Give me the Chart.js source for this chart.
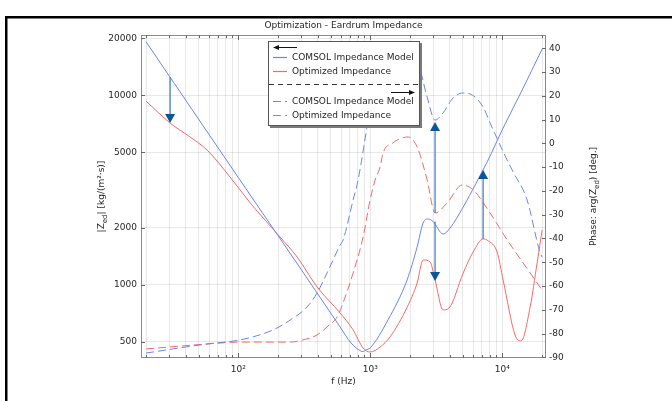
<!DOCTYPE html>
<html>
<head>
<meta charset="utf-8">
<script src="https://cdn.jsdelivr.net/npm/chart.js@4.4.1/dist/chart.umd.min.js"></script>
<style>
    html, body { margin: 0; padding: 0; background: #fff; }
</style>
</head>
<body>
<canvas id="grafico" width="672" height="401"></canvas>
<script>
// frequencias e valores
const comsolMagFreq = [20, 100, 300, 590, 714, 822, 881, 923, 995, 1361, 1897, 2260, 2508, 2737, 2985, 3554, 4015, 5047, 6327, 7798, 10130, 13870, 20000];
const comsolMag = [19200, 3680, 1200, 598, 492, 452, 443, 452, 463, 652, 1059, 1583, 2119, 2224, 2156, 1853, 1993, 2573, 3443, 4560, 6726, 10420, 17580];

const optMagFreq = [20, 30.4, 43.1, 57.9, 86.5, 123, 207, 279, 395, 590, 740, 881, 995, 1185, 1410, 1897, 2260, 2508, 2833, 3090, 3554, 3947, 5047, 6003, 7145, 7798, 9120, 10130, 12480, 13870, 16220, 18330, 20000];
const optMag = [9330, 7150, 6030, 5150, 3707, 2704, 1786, 1400, 973, 709, 577, 463, 441, 469, 530, 760, 1021, 1352, 1320, 1059, 736, 754, 1153, 1489, 1746, 1707, 1489, 1059, 542, 505, 762, 1303, 1946];

const comsolPhaseFreq = [20, 57.9, 103, 183, 247, 332, 395, 470, 590, 621, 740, 807, 961, 1100, 1300, 1600, 1950, 2300, 2692, 3090, 3554, 4233, 5047, 5693, 7145, 8072, 10860, 12060, 15390, 19330, 20000];
const comsolPhase = [-88.2, -84.4, -82.7, -78.5, -74.3, -68.8, -62.9, -54.5, -42.8, -40.7, -23.8, -15.4, 9.8, 30, 38, 41, 39, 33.8, 19.5, 9.8, 12.8, 19.1, 21.2, 20.8, 15.3, 8.6, -7.0, -12.0, -23.8, -46.1, -47.8];

const optPhaseFreq = [20, 57.9, 103, 247, 309, 395, 470, 560, 621, 740, 881, 995, 1086, 1185, 1248, 1486, 1593, 1931, 2260, 2692, 3090, 3810, 4955, 6003, 8072, 10860, 14360, 20000];
const optPhase = [-86.5, -84.4, -83.6, -83.6, -82.7, -80.6, -77.2, -73.0, -67.1, -54.5, -39.4, -23.8, -15.4, -9.9, -4.0, 0.2, 1.4, 2.7, -1.5, -15.4, -29.3, -25.1, -17.5, -19.6, -29.3, -40.6, -50.3, -61.7];

const freqTicks = [20, 30, 40, 50, 60, 70, 80, 90, 100, 200, 300, 400, 500, 600, 700, 800, 900, 1000, 2000, 3000, 4000, 5000, 6000, 7000, 8000, 9000, 10000, 20000];
const magTicks = [500, 1000, 2000, 5000, 10000, 20000];
const phaseTicks = [40, 30, 20, 10, 0, -10, -20, -30, -40, -50, -60, -70, -80, -90];

// setas: frequencia, valor inicial, valor final, eixo
const arrowFreq = [30.4, 3090, 3090, 7145];
const arrowFrom = [12500, 2156, -29.3, 1746];
const arrowTo = [7150, 1045, 9.0, 4036];
const arrowAxis = ['yMag', 'yMag', 'yPhase', 'yMag'];

const legendLabels = ['COMSOL Impedance Model', 'Optimized Impedance'];

const azul = '#6c83f2';
const vermelho = '#f76868';
const fonte = 'DejaVu Sans';
const corTexto = '#262626';

const pontos = (fs, vs) => fs.map((f, i) => ({ x: f, y: vs[i] }));

function textoComSubscrito(ctx, partes, x, y) {
    // partes: [texto, subscrito?]
    let total = 0;
    partes.forEach(p => {
        ctx.font = (p[1] ? 7 : 9) + 'px "' + fonte + '"';
        total += ctx.measureText(p[0]).width;
    });
    let cx = x - total / 2;
    partes.forEach(p => {
        ctx.font = (p[1] ? 7 : 9) + 'px "' + fonte + '"';
        ctx.fillText(p[0], cx, y + (p[1] ? 2.5 : 0));
        cx += ctx.measureText(p[0]).width;
    });
}

function seta(ctx, x, y1, y2, corLinha, corPonta) {
    const dir = y2 > y1 ? 1 : -1;
    ctx.strokeStyle = corLinha;
    ctx.lineWidth = 1.2;
    ctx.beginPath();
    ctx.moveTo(x, y1);
    ctx.lineTo(x, y2 - dir * 8);
    ctx.stroke();
    ctx.fillStyle = corPonta;
    ctx.beginPath();
    ctx.moveTo(x, y2);
    ctx.lineTo(x - 5, y2 - dir * 9);
    ctx.lineTo(x + 5, y2 - dir * 9);
    ctx.closePath();
    ctx.fill();
}

const extras = {
    id: 'extras',
    beforeDraw(chart) {
        const ctx = chart.ctx;
        ctx.save();
        ctx.fillStyle = '#000';
        ctx.fillRect(5, 16, 672, 2.5);
        ctx.fillRect(5, 16, 2.5, 401);
        ctx.restore();
    },
    afterDraw(chart) {
        const ctx = chart.ctx;
        const a = chart.chartArea;
        const sx = chart.scales.x;
        const sMag = chart.scales.yMag;
        const sPh = chart.scales.yPhase;
        ctx.save();

        // setas
        for (let i = 0; i < arrowFreq.length; i++) {
            const sc = chart.scales[arrowAxis[i]];
            const x = sx.getPixelForValue(arrowFreq[i]);
            seta(ctx, x, sc.getPixelForValue(arrowFrom[i]), sc.getPixelForValue(arrowTo[i]), '#3a78b8', '#0d5696');
        }

        // moldura e marcas para dentro
        ctx.strokeStyle = '#8a8a8a';
        ctx.lineWidth = 1;
        ctx.strokeRect(a.left + 0.5, a.top + 0.5, a.right - a.left - 1, a.bottom - a.top - 1);
        ctx.strokeStyle = '#666';
        ctx.beginPath();
        freqTicks.forEach(v => {
            const x = Math.round(sx.getPixelForValue(v)) + 0.5;
            const len = [100, 1000, 10000].includes(v) ? 5 : 3;
            ctx.moveTo(x, a.bottom); ctx.lineTo(x, a.bottom - len);
            ctx.moveTo(x, a.top); ctx.lineTo(x, a.top + len);
        });
        magTicks.forEach(v => {
            const y = Math.round(sMag.getPixelForValue(v)) + 0.5;
            ctx.moveTo(a.left, y); ctx.lineTo(a.left + 4, y);
        });
        phaseTicks.forEach(v => {
            const y = Math.round(sPh.getPixelForValue(v)) + 0.5;
            ctx.moveTo(a.right, y); ctx.lineTo(a.right - 4, y);
        });
        ctx.stroke();

        // titulo
        ctx.fillStyle = corTexto;
        ctx.textAlign = 'center';
        ctx.textBaseline = 'alphabetic';
        ctx.font = '9px "' + fonte + '"';
        ctx.fillText('Optimization - Eardrum Impedance', (a.left + a.right) / 2, 28);
        ctx.fillText('f (Hz)', (a.left + a.right) / 2, 384);

        // titulos dos eixos
        ctx.textAlign = 'left';
        ctx.save();
        ctx.translate(104, (a.top + a.bottom) / 2);
        ctx.rotate(-Math.PI / 2);
        textoComSubscrito(ctx, [['|Z', false], ['ed', true], ['| [kg/(m\u00B2\u00B7s)]', false]], 0, 0);
        ctx.restore();
        ctx.save();
        ctx.translate(596, (a.top + a.bottom) / 2);
        ctx.rotate(-Math.PI / 2);
        textoComSubscrito(ctx, [['Phase: arg(Z', false], ['ed', true], [') [deg.]', false]], 0, 0);
        ctx.restore();

        // legenda
        const lx = 268, ly = 41, lw = 152, lh = 85;
        ctx.fillStyle = '#7a7a7a';
        ctx.fillRect(lx + 2, ly + 2, lw, lh);
        ctx.fillStyle = '#fff';
        ctx.fillRect(lx, ly, lw, lh);
        ctx.strokeStyle = '#555';
        ctx.lineWidth = 1;
        ctx.strokeRect(lx + 0.5, ly + 0.5, lw - 1, lh - 1);

        ctx.strokeStyle = '#111';
        ctx.fillStyle = '#111';
        ctx.beginPath();
        ctx.moveTo(276, 47.5); ctx.lineTo(297, 47.5);
        ctx.moveTo(391, 92.5); ctx.lineTo(412, 92.5);
        ctx.stroke();
        ctx.beginPath();
        ctx.moveTo(273, 47.5); ctx.lineTo(279, 45); ctx.lineTo(279, 50); ctx.closePath();
        ctx.moveTo(415, 92.5); ctx.lineTo(409, 90); ctx.lineTo(409, 95); ctx.closePath();
        ctx.fill();

        ctx.strokeStyle = '#333';
        ctx.setLineDash([5, 4]);
        ctx.beginPath();
        ctx.moveTo(lx + 1, 84.5); ctx.lineTo(lx + lw - 1, 84.5);
        ctx.stroke();

        const filas = [
            [57.5, azul, [], legendLabels[0]],
            [71.5, vermelho, [], legendLabels[1]],
            [101.5, azul, [8, 4], legendLabels[0]],
            [115.5, vermelho, [8, 4], legendLabels[1]]
        ];
        ctx.font = '9px "' + fonte + '"';
        ctx.textBaseline = 'middle';
        filas.forEach(f => {
            ctx.strokeStyle = f[1];
            ctx.lineWidth = 1.2;
            ctx.setLineDash(f[2]);
            ctx.beginPath();
            ctx.moveTo(273, f[0]); ctx.lineTo(287, f[0]);
            ctx.stroke();
            ctx.fillStyle = corTexto;
            ctx.fillText(f[3], 292, f[0] + 0.5);
        });
        ctx.setLineDash([]);
        ctx.restore();
    }
};

const serie = (label, fs, vs, cor, eixo, tracejado) => ({
    label: label,
    data: pontos(fs, vs),
    yAxisID: eixo,
    borderColor: cor,
    borderWidth: 1,
    borderDash: tracejado ? [8, 4] : [],
    pointRadius: 0,
    fill: false,
    cubicInterpolationMode: 'monotone'
});

const grade = 'rgba(0,0,0,0.09)';

new Chart(document.getElementById('grafico'), {
    type: 'line',
    data: {
        datasets: [
            serie(legendLabels[0], comsolMagFreq, comsolMag, azul, 'yMag', false),
            serie(legendLabels[1], optMagFreq, optMag, vermelho, 'yMag', false),
            serie(legendLabels[0], comsolPhaseFreq, comsolPhase, azul, 'yPhase', true),
            serie(legendLabels[1], optPhaseFreq, optPhase, vermelho, 'yPhase', true)
        ]
    },
    options: {
        responsive: false,
        devicePixelRatio: 1,
        animation: false,
        layout: { padding: { top: 35, left: 0, right: 0, bottom: 0 } },
        plugins: {
            legend: { display: false },
            title: { display: false },
            tooltip: { enabled: false }
        },
        scales: {
            x: {
                type: 'logarithmic',
                position: 'bottom',
                min: 18.3,
                max: 21400,
                afterBuildTicks: s => { s.ticks = freqTicks.map(v => ({ value: v })); },
                afterFit: s => { s.height = 43; },
                border: { display: false },
                grid: { color: grade, drawTicks: false },
                ticks: {
                    autoSkip: false,
                    maxRotation: 0,
                    padding: 6,
                    color: corTexto,
                    font: { family: fonte, size: 9 },
                    callback: v => ({ 100: '10\u00B2', 1000: '10\u00B3', 10000: '10\u2074' }[v] || '')
                }
            },
            yMag: {
                type: 'logarithmic',
                position: 'left',
                min: 410,
                max: 20870,
                afterBuildTicks: s => { s.ticks = magTicks.map(v => ({ value: v })); },
                afterFit: s => { s.width = 141; },
                border: { display: false },
                grid: { color: grade, drawTicks: false },
                ticks: {
                    padding: 4,
                    color: corTexto,
                    font: { family: fonte, size: 9 },
                    callback: v => String(v)
                }
            },
            yPhase: {
                type: 'linear',
                position: 'right',
                min: -90.3,
                max: 45.6,
                afterBuildTicks: s => { s.ticks = phaseTicks.map(v => ({ value: v })); },
                afterFit: s => { s.width = 126; },
                border: { display: false },
                grid: { drawOnChartArea: false, drawTicks: false },
                ticks: {
                    padding: 3,
                    color: corTexto,
                    font: { family: fonte, size: 9 },
                    callback: v => String(v)
                }
            }
        }
    },
    plugins: [extras]
});
</script>
</body>
</html>
